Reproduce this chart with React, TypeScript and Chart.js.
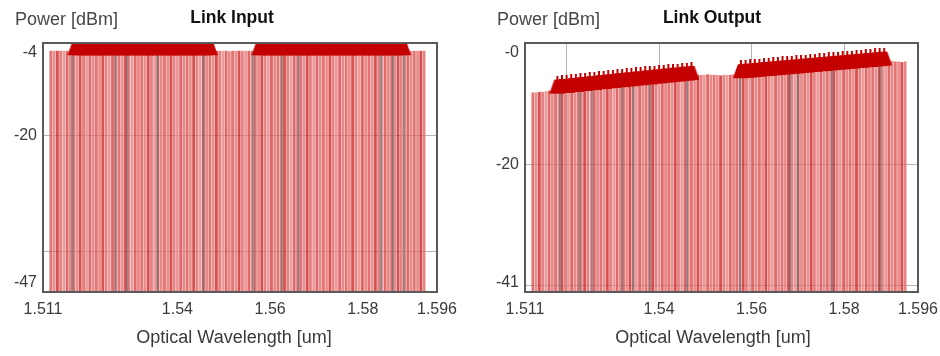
import React, { useEffect, useRef } from "react";
import { Chart, registerables } from "chart.js";

Chart.register(...registerables);

const FONT = '"Liberation Sans", Arial, sans-serif';

// ---- axes ----
const X_MIN = 1.511;
const X_MAX = 1.596;
const xTickValues = [1.511, 1.52, 1.54, 1.56, 1.58, 1.596];
const xTickLabels = ["1.511", "", "1.54", "1.56", "1.58", "1.596"];
const xAxisTitle = "Optical Wavelength [um]";
const yAxisTitle = "Power [dBm]";

const inputYTicks = [-47, -40, -20, -4];
const inputYLabels = ["-47", "", "-20", "-4"];
const outputYTicks = [-41, -40, -20, 0];
const outputYLabels = ["-41", "", "-20", "-0"];

// ---- spectrum lines (shared wavelength grid, um) ----
const spectrumWavelengths = [
  1.5127, 1.5134, 1.5141, 1.5148, 1.5155, 1.5162, 1.5169, 1.5176, 1.5183, 1.519,
  1.5197, 1.5204, 1.5211, 1.5218, 1.5225, 1.5232, 1.5239, 1.5246, 1.5253, 1.526,
  1.5267, 1.5274, 1.5281, 1.5288, 1.5295, 1.5302, 1.5309, 1.5316, 1.5323, 1.533,
  1.5337, 1.5344, 1.5351, 1.5358, 1.5365, 1.5372, 1.5379, 1.5386, 1.5393, 1.54,
  1.5407, 1.5414, 1.5421, 1.5428, 1.5435, 1.5442, 1.5449, 1.5456, 1.5463, 1.547,
  1.5477, 1.5484, 1.5491, 1.5498, 1.5505, 1.5512, 1.5519, 1.5526, 1.5533, 1.554,
  1.5547, 1.5554, 1.5561, 1.5568, 1.5575, 1.5582, 1.5589, 1.5596, 1.5603, 1.561,
  1.5617, 1.5624, 1.5631, 1.5638, 1.5645, 1.5652, 1.5659, 1.5666, 1.5673, 1.568,
  1.5687, 1.5694, 1.5701, 1.5708, 1.5715, 1.5722, 1.5729, 1.5736, 1.5743, 1.575,
  1.5757, 1.5764, 1.5771, 1.5778, 1.5785, 1.5792, 1.5799, 1.5806, 1.5813, 1.582,
  1.5827, 1.5834, 1.5841, 1.5848, 1.5855, 1.5862, 1.5869, 1.5876, 1.5883, 1.589,
  1.5897, 1.5904, 1.5911, 1.5918, 1.5925, 1.5932,
];

// Link input spectrum power (dBm)
const inputSpectrum = [
  -5.4, -5.4, -5.4, -5.4, -5.4, -5.4, -5.4, -5.4, -5.4, -5.4,
  -5.4, -5.4, -5.4, -5.4, -5.4, -5.4, -5.4, -5.4, -5.4, -5.4,
  -5.4, -5.4, -5.4, -5.4, -5.4, -5.4, -5.4, -5.4, -5.4, -5.4,
  -5.4, -5.4, -5.4, -5.4, -5.4, -5.4, -5.4, -5.4, -5.4, -5.4,
  -5.4, -5.4, -5.4, -5.4, -5.4, -5.4, -5.4, -5.4, -5.4, -5.4,
  -5.4, -5.4, -5.4, -5.4, -5.4, -5.5, -5.4, -5.4, -5.4, -5.4,
  -5.4, -5.4, -5.4, -5.4, -5.4, -5.4, -5.4, -5.4, -5.4, -5.4,
  -5.4, -5.4, -5.4, -5.4, -5.4, -5.4, -5.4, -5.4, -5.4, -5.4,
  -5.4, -5.4, -5.4, -5.4, -5.4, -5.4, -5.4, -5.4, -5.4, -5.4,
  -5.4, -5.4, -5.4, -5.4, -5.4, -5.4, -5.4, -5.4, -5.4, -5.4,
  -5.4, -5.4, -5.4, -5.4, -5.4, -5.4, -5.4, -5.4, -5.4, -5.4,
  -5.4, -5.4, -5.4, -5.4, -5.4, -5.4,
];

// Link output spectrum power (dBm)
const outputSpectrum = [
  -8.2, -8.2, -8.1, -8.1, -8.0, -7.9, -7.9, -7.6, -7.5, -7.4,
  -7.4, -7.3, -7.3, -7.2, -7.1, -7.1, -7.0, -7.0, -6.9, -6.9,
  -6.8, -6.8, -6.7, -6.7, -6.6, -6.5, -6.5, -6.4, -6.4, -6.3,
  -6.3, -6.2, -6.2, -6.1, -6.0, -6.0, -5.9, -5.9, -5.8, -5.8,
  -5.7, -5.7, -5.6, -5.6, -5.5, -5.4, -5.4, -5.3, -5.3, -5.3,
  -5.3, -5.3, -5.3, -5.3, -5.2, -5.3, -5.3, -5.3, -5.4, -5.3,
  -5.3, -5.3, -5.2, -5.1, -5.1, -5.1, -5.0, -5.0, -4.9, -4.9,
  -4.8, -4.8, -4.7, -4.7, -4.6, -4.6, -4.5, -4.5, -4.4, -4.4,
  -4.3, -4.3, -4.2, -4.2, -4.1, -4.1, -4.0, -4.0, -3.9, -3.9,
  -3.8, -3.8, -3.7, -3.7, -3.6, -3.6, -3.5, -3.5, -3.4, -3.4,
  -3.3, -3.3, -3.2, -3.2, -3.1, -3.1, -3.0, -3.0, -2.9, -2.9,
  -2.9, -3.0, -3.1, -3.1, -3.2, -3.1,
];

// ---- signal channel peaks (two bands) ----
const signalWavelengthsA = [
  1.518, 1.519, 1.52, 1.521, 1.522, 1.523, 1.524, 1.525, 1.526, 1.527,
  1.528, 1.529, 1.53, 1.531, 1.532, 1.533, 1.534, 1.535, 1.536, 1.537,
  1.538, 1.539, 1.54, 1.541, 1.542, 1.543, 1.544, 1.545, 1.546, 1.547,
];
const signalWavelengthsB = [
  1.5577, 1.5587, 1.5597, 1.5607, 1.5617, 1.5627, 1.5637, 1.5647, 1.5657, 1.5667,
  1.5677, 1.5687, 1.5697, 1.5707, 1.5717, 1.5727, 1.5737, 1.5747, 1.5757, 1.5767,
  1.5777, 1.5787, 1.5797, 1.5807, 1.5817, 1.5827, 1.5837, 1.5847, 1.5857, 1.5867,
  1.5877, 1.5887,
];

const inputSignalA = [
  -4.9, -4.9, -4.9, -4.9, -4.9, -4.9, -4.9, -4.9, -4.9, -4.9,
  -4.9, -4.9, -4.9, -4.9, -4.9, -4.9, -4.9, -4.9, -4.9, -4.9,
  -4.9, -4.9, -4.9, -4.9, -4.9, -4.9, -4.9, -4.9, -4.9, -4.9,
];
const inputSignalB = [
  -4.9, -4.9, -4.9, -4.9, -4.9, -4.9, -4.9, -4.9, -4.9, -4.9,
  -4.9, -4.9, -4.9, -4.9, -4.9, -4.9, -4.9, -4.9, -4.9, -4.9,
  -4.9, -4.9, -4.9, -4.9, -4.9, -4.9, -4.9, -4.9, -4.9, -4.9,
  -4.9, -4.9,
];
const outputSignalA = [
  -7.18, -7.06, -7.05, -6.92, -6.89, -6.76, -6.73, -6.6, -6.58, -6.45,
  -6.42, -6.29, -6.26, -6.13, -6.11, -5.98, -5.96, -5.83, -5.8, -5.67,
  -5.65, -5.52, -5.49, -5.36, -5.34, -5.21, -5.19, -5.06, -5.03, -4.92,
];
const outputSignalB = [
  -4.64, -4.56, -4.52, -4.43, -4.38, -4.29, -4.25, -4.16, -4.12, -4.02,
  -3.98, -3.9, -3.85, -3.76, -3.71, -3.63, -3.58, -3.49, -3.45, -3.36,
  -3.31, -3.23, -3.18, -3.09, -3.05, -2.96, -2.91, -2.83, -2.78, -2.69,
  -2.65, -2.57,
];

// ---- darker (grey) spectral lines ----
const inputGreyWavelengths = [1.5173, 1.5266, 1.5292, 1.5357, 1.5456, 1.5564, 1.5625, 1.5661, 1.5839, 1.5865, 1.5889];
const inputGreyValues = [-5.4, -5.4, -5.4, -5.4, -5.4, -5.4, -5.4, -5.4, -5.4, -5.4, -5.4];
const outputGreyWavelengths = [1.5186, 1.5229, 1.5255, 1.532, 1.5344, 1.538, 1.546, 1.5575, 1.5683, 1.57, 1.5774, 1.5878];
const outputGreyValues = [-7.5, -7.1, -6.9, -6.4, -6.2, -5.9, -5.3, -5.1, -4.3, -4.2, -3.7, -3.0];

const spectrumPalette = [
  "rgba(222,92,92,0.85)",
  "rgba(230,122,122,0.85)",
  "rgba(206,38,38,0.8)",
  "rgba(226,108,108,0.85)",
  "rgba(234,138,138,0.85)",
  "rgba(218,80,80,0.85)",
  "rgba(228,116,116,0.85)",
];

const SIGNAL_COLOR = "#c40000";

function makeSignalSprite(): HTMLCanvasElement {
  // trapezoid marker with a peak spike; centred on the data point
  const cv = document.createElement("canvas");
  cv.width = 16;
  cv.height = 22;
  const g = cv.getContext("2d") as CanvasRenderingContext2D;
  g.fillStyle = SIGNAL_COLOR;
  g.beginPath();
  g.moveTo(0, 18);
  g.lineTo(5, 4);
  g.lineTo(11, 4);
  g.lineTo(16, 18);
  g.closePath();
  g.fill();
  g.fillRect(7, 0, 2, 5);
  return cv;
}

const panelPlugin = {
  id: "panelText",
  afterDraw(chart: any, _args: any, opts: any) {
    const ctx = chart.ctx;
    const a = chart.chartArea;
    ctx.save();
    ctx.strokeStyle = "#5a5a5a";
    ctx.lineWidth = 2;
    ctx.strokeRect(a.left, a.top, a.right - a.left, a.bottom - a.top);
    ctx.textBaseline = "middle";
    ctx.textAlign = "left";
    ctx.fillStyle = "#474747";
    ctx.font = `18px ${FONT}`;
    ctx.fillText(yAxisTitle, opts.unitX, 20);
    ctx.textAlign = "center";
    ctx.fillStyle = "#3a3a3a";
    ctx.fillText(xAxisTitle, opts.xTitleX, 338);
    ctx.fillStyle = "#111";
    ctx.font = `bold 17.5px ${FONT}`;
    ctx.fillText(opts.title, opts.titleX, 18);
    ctx.restore();
  },
};

type PanelCfg = {
  title: string;
  titleX: number;
  unitX: number;
  xTitleX: number;
  yMin: number;
  yMax: number;
  yTicks: number[];
  yLabels: string[];
  yAxisWidth: number;
  rightPad: number;
  spectrum: number[];
  sigA: number[];
  sigB: number[];
  greyWl: number[];
  greyVal: number[];
};

function buildConfig(c: PanelCfg): any {
  const gridColor = "#b4b4b4";
  const sprite = makeSignalSprite();
  const signalDs = (label: string, wl: number[], vals: number[]) => ({
    type: "scatter",
    label,
    data: wl.map((x, i) => ({ x, y: vals[i] })),
    pointStyle: sprite,
    pointRadius: 8,
    pointBackgroundColor: SIGNAL_COLOR,
    pointBorderColor: SIGNAL_COLOR,
    pointBorderWidth: 0,
    showLine: false,
    order: 0,
    clip: 0,
  });
  return {
    type: "bar",
    data: {
      datasets: [
        signalDs("Signal A", signalWavelengthsA, c.sigA),
        signalDs("Signal B", signalWavelengthsB, c.sigB),
        {
          type: "bar",
          label: "Grey lines",
          data: c.greyWl.map((x, i) => ({ x, y: [c.yMin, c.greyVal[i]] })),
          backgroundColor: "rgba(105,105,105,0.6)",
          barThickness: 1.6,
          grouped: false,
          borderWidth: 0,
          order: 1,
          clip: 0,
        },
        {
          type: "bar",
          label: "Spectrum",
          data: spectrumWavelengths.map((x, i) => ({ x, y: [c.yMin, c.spectrum[i]] })),
          backgroundColor: (ctx: any) => spectrumPalette[ctx.dataIndex % spectrumPalette.length],
          barThickness: 2.2,
          grouped: false,
          borderWidth: 0,
          order: 2,
          clip: 0,
        },
      ],
    },
    options: {
      responsive: false,
      maintainAspectRatio: false,
      devicePixelRatio: 1,
      animation: false,
      events: [],
      layout: { padding: { top: 43, left: 0, right: c.rightPad, bottom: 0 } },
      plugins: {
        legend: { display: false },
        tooltip: { enabled: false },
        title: { display: false },
        panelText: { title: c.title, titleX: c.titleX, unitX: c.unitX, xTitleX: c.xTitleX },
      },
      scales: {
        x: {
          type: "linear",
          min: X_MIN,
          max: X_MAX,
          offset: false,
          afterBuildTicks: (s: any) => {
            s.ticks = xTickValues.map((v) => ({ value: v }));
          },
          afterFit: (s: any) => {
            s.height = 64;
            s.paddingLeft = 0;
            s.paddingRight = 0;
          },
          ticks: {
            autoSkip: false,
            maxRotation: 0,
            minRotation: 0,
            padding: 8,
            color: "#3a3a3a",
            font: { family: FONT, size: 16 },
            callback: (_v: any, i: number) => xTickLabels[i],
          },
          grid: {
            offset: false,
            drawTicks: false,
            lineWidth: 1,
            color: (ctx: any) =>
              ctx.tick && (ctx.tick.value === X_MIN || ctx.tick.value === X_MAX) ? "rgba(0,0,0,0)" : gridColor,
          },
          border: { display: false },
          title: { display: false },
        },
        y: {
          type: "linear",
          min: c.yMin,
          max: c.yMax,
          afterBuildTicks: (s: any) => {
            s.ticks = c.yTicks.map((v) => ({ value: v }));
          },
          afterFit: (s: any) => {
            s.width = c.yAxisWidth;
            s.paddingTop = 0;
            s.paddingBottom = 0;
          },
          ticks: {
            autoSkip: false,
            padding: 6,
            color: "#3a3a3a",
            font: { family: FONT, size: 16, lineHeight: 1.2 },
            callback: (v: any, i: number) => {
              const lab = c.yLabels[i];
              if (v === c.yMax) return ["", lab];
              if (v === c.yMin) return [lab, ""];
              return lab;
            },
          },
          grid: {
            drawTicks: false,
            lineWidth: 1,
            color: (ctx: any) =>
              ctx.tick && (ctx.tick.value === c.yMin || ctx.tick.value === c.yMax) ? "rgba(0,0,0,0)" : gridColor,
          },
          border: { display: false },
        },
      },
    },
    plugins: [panelPlugin],
  };
}

function Panel({ cfg, left }: { cfg: PanelCfg; left: number }) {
  const ref = useRef<HTMLCanvasElement>(null);
  useEffect(() => {
    const chart = new Chart(ref.current as HTMLCanvasElement, buildConfig(cfg));
    return () => chart.destroy();
  }, []);
  return (
    <div style={{ position: "absolute", left, top: 0, width: 470, height: 356 }}>
      <canvas ref={ref} width={470} height={356} style={{ display: "block", width: 470, height: 356 }} />
    </div>
  );
}

const inputCfg: PanelCfg = {
  title: "Link Input",
  titleX: 232,
  unitX: 15,
  xTitleX: 234,
  yMin: -47,
  yMax: -4,
  yTicks: inputYTicks,
  yLabels: inputYLabels,
  yAxisWidth: 43,
  rightPad: 33,
  spectrum: inputSpectrum,
  sigA: inputSignalA,
  sigB: inputSignalB,
  greyWl: inputGreyWavelengths,
  greyVal: inputGreyValues,
};

const outputCfg: PanelCfg = {
  title: "Link Output",
  titleX: 242,
  unitX: 27,
  xTitleX: 243,
  yMin: -41,
  yMax: 0,
  yTicks: outputYTicks,
  yLabels: outputYLabels,
  yAxisWidth: 55,
  rightPad: 22,
  spectrum: outputSpectrum,
  sigA: outputSignalA,
  sigB: outputSignalB,
  greyWl: outputGreyWavelengths,
  greyVal: outputGreyValues,
};

export default function App() {
  return (
    <div style={{ position: "fixed", left: 0, top: 0, width: 940, height: 356, background: "#fff", overflow: "hidden" }}>
      <Panel cfg={inputCfg} left={0} />
      <Panel cfg={outputCfg} left={470} />
    </div>
  );
}
